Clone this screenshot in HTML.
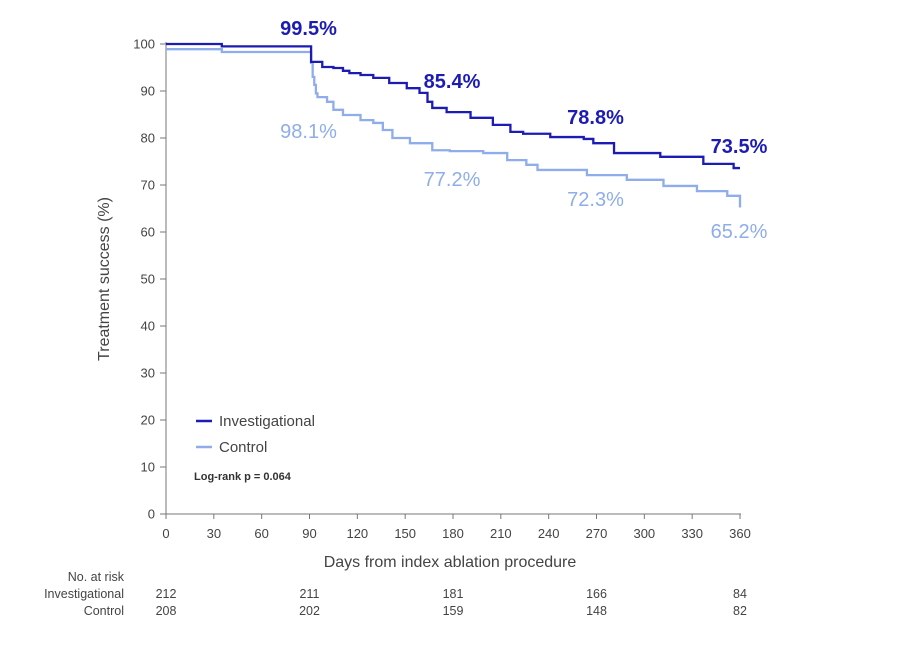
<!DOCTYPE html>
<html><head><meta charset="utf-8"><style>
body{margin:0;background:#fff;font-family:"Liberation Sans",sans-serif}
svg text{font-family:"Liberation Sans",sans-serif}
</style></head><body>
<svg width="900" height="642" viewBox="0 0 900 642" xmlns="http://www.w3.org/2000/svg">
<g id="axes"></g><g id="series"></g><g id="labels"></g>
<g>
<line x1="196" y1="421" x2="212" y2="421" stroke="#1c1cb4" stroke-width="2.5"/>
<text x="219" y="426" font-size="15" fill="#444">Investigational</text>
<line x1="196" y1="447" x2="212" y2="447" stroke="#8fadea" stroke-width="2.5"/>
<text x="219" y="452" font-size="15" fill="#444">Control</text>
<text x="194" y="480" font-size="11" font-weight="bold" fill="#333">Log-rank p = 0.064</text>
</g>
<text x="450" y="567" font-size="16" fill="#444" text-anchor="middle">Days from index ablation procedure</text>
<text transform="translate(109,279) rotate(-90)" font-size="16" fill="#444" text-anchor="middle">Treatment success (%)</text>
<g font-size="12.5" fill="#444">
<text x="124" y="581" text-anchor="end">No. at risk</text>
<text x="124" y="598" text-anchor="end">Investigational</text>
<text x="124" y="615" text-anchor="end">Control</text>
<g id="risk"></g>
</g>
</svg>
<script>
const xTicks=[0,30,60,90,120,150,180,210,240,270,300,330,360];
const yTicks=[0,10,20,30,40,50,60,70,80,90,100];
const invDays=[0,35,91,92,98,105,111,115,122,130,140,151,159,164,167,176,191,205,216,224,241,262,268,281,310,337,356,360];
const invVals=[100,99.5,96.2,96.2,95.1,94.9,94.3,93.8,93.4,92.8,91.7,90.6,89.6,87.7,86.4,85.5,84.3,82.8,81.3,80.9,80.2,79.8,78.9,76.8,76.0,74.5,73.6,73.6];
const ctlDays=[0,35,91,92,93,94,95,101,105,111,122,130,136,142,153,167,178,199,214,226,233,264,289,312,333,352,360];
const ctlVals=[98.9,98.3,96,93,91.3,89.5,88.7,87.7,86,84.9,83.8,83.2,81.7,80,78.9,77.4,77.2,76.8,75.3,74.3,73.2,72.1,71.1,69.8,68.7,67.7,65.2];
const riskDays=[0,90,180,270,360];
const riskInv=[212,211,181,166,84];
const riskCtl=[208,202,159,148,82];
const labInv=[[90,"99.5%"],[180,"85.4%"],[270,"78.8%"],[360,"73.5%"]];
const labCtl=[[90,"98.1%"],[180,"77.2%"],[270,"72.3%"],[360,"65.2%"]];
const X=d=>166+d*574/360, Y=v=>514-v*4.7;
const NS="http://www.w3.org/2000/svg";
function mk(t,a,p,txt){const e=document.createElementNS(NS,t);for(const k in a)e.setAttribute(k,a[k]);if(txt!==undefined)e.textContent=txt;p.appendChild(e);return e;}
const ax=document.getElementById('axes');
let e=mk('line',{x1:166,y1:Y(100)-2,x2:166,y2:514,stroke:'#777','stroke-width':1},ax);


e=mk('line',{x1:166,y1:514,x2:741,y2:514,stroke:'#777','stroke-width':1},ax);


xTicks.forEach(t=>{mk('line',{x1:X(t),y1:514,x2:X(t),y2:519,stroke:'#777'},ax);
 e=mk('text',{x:X(t),y:538,'font-size':13,fill:'#444','text-anchor':'middle'},ax,t);
 
 });
yTicks.forEach(t=>{mk('line',{x1:160,y1:Y(t),x2:166,y2:Y(t),stroke:'#777'},ax);
 e=mk('text',{x:155,y:Y(t)+4.5,'font-size':13,fill:'#444','text-anchor':'end'},ax,t);
 
 });
function step(ds,vs){let d='M'+X(ds[0])+','+Y(vs[0]);for(let i=1;i<ds.length;i++){d+='H'+X(ds[i])+'V'+Y(vs[i]);}return d;}
const sg=document.getElementById('series');
e=mk('path',{d:step(ctlDays,ctlVals),fill:'none',stroke:'#8fadea','stroke-width':2.3},sg);


e=mk('path',{d:step(invDays,invVals),fill:'none',stroke:'#1c1cb4','stroke-width':2.3},sg);


const lg=document.getElementById('labels');
const invLY=[35,88,124,153], ctlLY=[138,186,206,238];
labInv.forEach((l,i)=>{e=mk('text',{x:X(l[0])-1,y:invLY[i],'font-size':20,'font-weight':'bold',fill:'#1c1cb4','text-anchor':'middle'},lg,l[1]);
 
 });
labCtl.forEach((l,i)=>{e=mk('text',{x:X(l[0])-1,y:ctlLY[i],'font-size':20,fill:'#8fadea','text-anchor':'middle'},lg,l[1]);
 
 });
const rg=document.getElementById('risk');
riskDays.forEach((d,i)=>{e=mk('text',{x:X(d),y:598,'text-anchor':'middle'},rg,riskInv[i]);
 
 
 e=mk('text',{x:X(d),y:615,'text-anchor':'middle'},rg,riskCtl[i]);
 
 });
</script>
</body></html>
